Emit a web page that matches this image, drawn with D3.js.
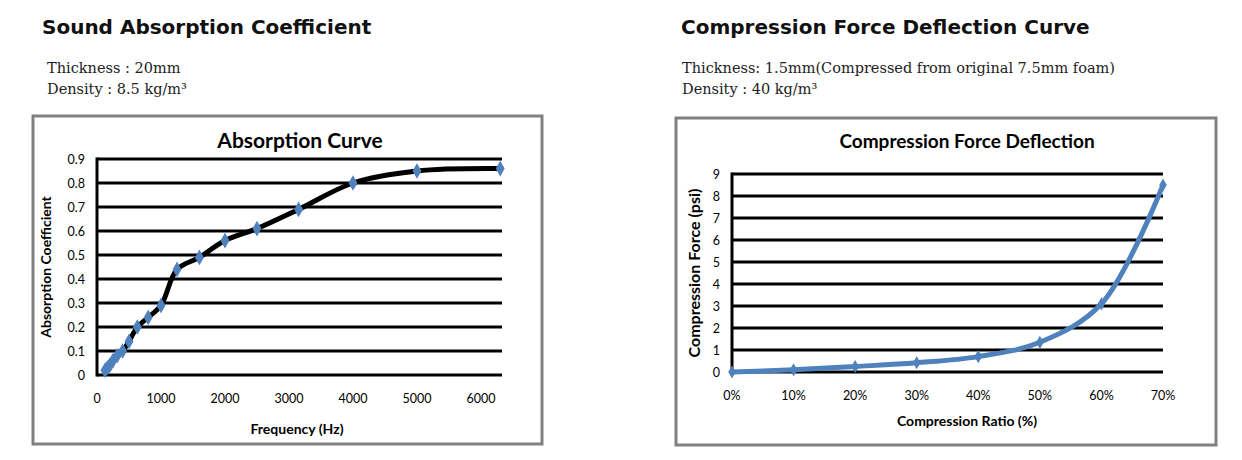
<!DOCTYPE html>
<html><head><meta charset="utf-8">
<script src="https://cdn.jsdelivr.net/npm/d3@7"></script>
<style>body{margin:0;background:#fff}</style></head>
<body><svg id="c" width="1242" height="460"></svg>
<script>
"use strict";
// absorption data (Hz, coefficient)
const absFreq = [125, 160, 200, 250, 315, 400, 500, 630, 800, 1000, 1250, 1600, 2000, 2500, 3150, 4000, 5000, 6300];
const absCoef = [0.02, 0.03, 0.04, 0.06, 0.08, 0.10, 0.14, 0.20, 0.24, 0.29, 0.44, 0.49, 0.56, 0.61, 0.69, 0.80, 0.85, 0.86];
const absXTicks = [0, 1000, 2000, 3000, 4000, 5000, 6000];
const absYTicks = [0, 0.1, 0.2, 0.3, 0.4, 0.5, 0.6, 0.7, 0.8, 0.9];
// compression data
const cfdRatio = [0, 10, 20, 30, 40, 50, 60, 70];
const cfdForce = [0, 0.1, 0.25, 0.42, 0.7, 1.35, 3.1, 8.5];
const cfdYTicks = [0, 1, 2, 3, 4, 5, 6, 7, 8, 9];

const svg = d3.select("#c");
const chartFont = "Lato, 'Open Sans', sans-serif";

function heading(x, y, t) {
   svg.append("text").attr("x", x).attr("y", y).text(t)
      .attr("font-family", "'DejaVu Sans', sans-serif").attr("font-weight", "bold").attr("font-size", 20).attr("fill", "#111");
}
function sub(x, y, t) {
   svg.append("text").attr("x", x).attr("y", y).text(t)
      .attr("font-family", "'DejaVu Serif', serif").attr("font-size", 14.5).attr("fill", "#222");
}
heading(42, 34, "Sound Absorption Coefficient");
sub(47, 73, "Thickness : 20mm");
sub(47, 94, "Density : 8.5 kg/m³");
heading(681, 34, "Compression Force Deflection Curve");
sub(682, 73, "Thickness: 1.5mm(Compressed from original 7.5mm foam)");
sub(682, 94, "Density : 40 kg/m³");

function panel(o) {
   svg.append("rect").attr("x", o.box[0]).attr("y", o.box[1]).attr("width", o.box[2]).attr("height", o.box[3])
      .attr("fill", "#fff").attr("stroke", "#808080").attr("stroke-width", 3);
   const g = svg.append("g");
   g.append("text").attr("x", o.titleX).attr("y", o.titleY).attr("text-anchor", "middle").text(o.title)
      .attr("font-family", chartFont).attr("font-weight", "bold").attr("font-size", o.titleSize);
   // gridlines
   g.selectAll(".grid").data(o.yTicks).join("line")
      .attr("x1", o.x.range()[0]).attr("x2", o.gridEnd)
      .attr("y1", d => o.y(d)).attr("y2", d => o.y(d))
      .attr("stroke", "#000").attr("stroke-width", 3);
   g.append("line").attr("x1", o.x.range()[0]).attr("x2", o.x.range()[0])
      .attr("y1", o.y.range()[0] + 1.5).attr("y2", o.y.range()[1] - 1.5).attr("stroke", "#000").attr("stroke-width", 3);
   g.selectAll(".yl").data(o.yTicks).join("text")
      .attr("x", o.x.range()[0] - 12).attr("y", d => o.y(d) + 4.5).attr("text-anchor", "end")
      .text(o.yFmt).attr("font-family", chartFont).attr("font-size", 12.5);
   g.selectAll(".xl").data(o.xTicks).join("text")
      .attr("x", d => o.x(d)).attr("y", o.y.range()[0] + 28).attr("text-anchor", "middle")
      .text(o.xFmt).attr("font-family", chartFont).attr("font-size", 12.5);
   g.append("text").attr("x", o.xLabX).attr("y", o.xLabY).attr("text-anchor", "middle").text(o.xLab)
      .attr("font-family", chartFont).attr("font-weight", "bold").attr("font-size", 14);
   g.append("text").attr("transform", `translate(${o.yLabX},${(o.y.range()[0] + o.y.range()[1]) / 2}) rotate(-90)`)
      .attr("text-anchor", "middle").text(o.yLab)
      .attr("font-family", chartFont).attr("font-weight", "bold").attr("font-size", o.yLabSize);
   const pts = o.xs.map((v, i) => [o.x(v), o.y(o.ys[i])]);
   g.append("path").attr("d", d3.line().curve(d3.curveCatmullRom.alpha(0.5))(pts))
      .attr("fill", "none").attr("stroke", o.lineColor).attr("stroke-width", o.lineWidth)
      .attr("stroke-linejoin", "round").attr("stroke-linecap", "round");
   g.selectAll(".m").data(pts).join("path")
      .attr("d", d3.symbol(d3.symbolDiamond, o.markSize)())
      .attr("transform", d => `translate(${d[0]},${d[1]})`).attr("fill", "#4f81bd");
}

panel({
   box: [33, 116, 509, 328], title: "Absorption Curve", titleX: 300, titleY: 148, titleSize: 21,
   x: d3.scaleLinear().domain([0, 6000]).range([97, 481]),
   y: d3.scaleLinear().domain([0, 0.9]).range([375, 159]),
   gridEnd: 502, xTicks: absXTicks, yTicks: absYTicks,
   xFmt: d => d, yFmt: d => d === 0 ? "0" : d3.format(".1f")(d),
   xs: absFreq, ys: absCoef, lineColor: "#000", lineWidth: 5, markSize: 70,
   xLab: "Frequency (Hz)", xLabX: 297, xLabY: 434, yLab: "Absorption Coefficient", yLabX: 51, yLabSize: 14
});
panel({
   box: [676, 118, 540, 327], title: "Compression Force Deflection", titleX: 967, titleY: 148, titleSize: 19,
   x: d3.scaleLinear().domain([0, 70]).range([732, 1163]),
   y: d3.scaleLinear().domain([0, 9]).range([372, 174]),
   gridEnd: 1163, xTicks: cfdRatio, yTicks: cfdYTicks,
   xFmt: d => d + "%", yFmt: d => d,
   xs: cfdRatio, ys: cfdForce, lineColor: "#4f81bd", lineWidth: 5, markSize: 50,
   xLab: "Compression Ratio (%)", xLabX: 967, xLabY: 426, yLab: "Compression Force  (psi)", yLabX: 700, yLabSize: 16
});
</script></body></html>
